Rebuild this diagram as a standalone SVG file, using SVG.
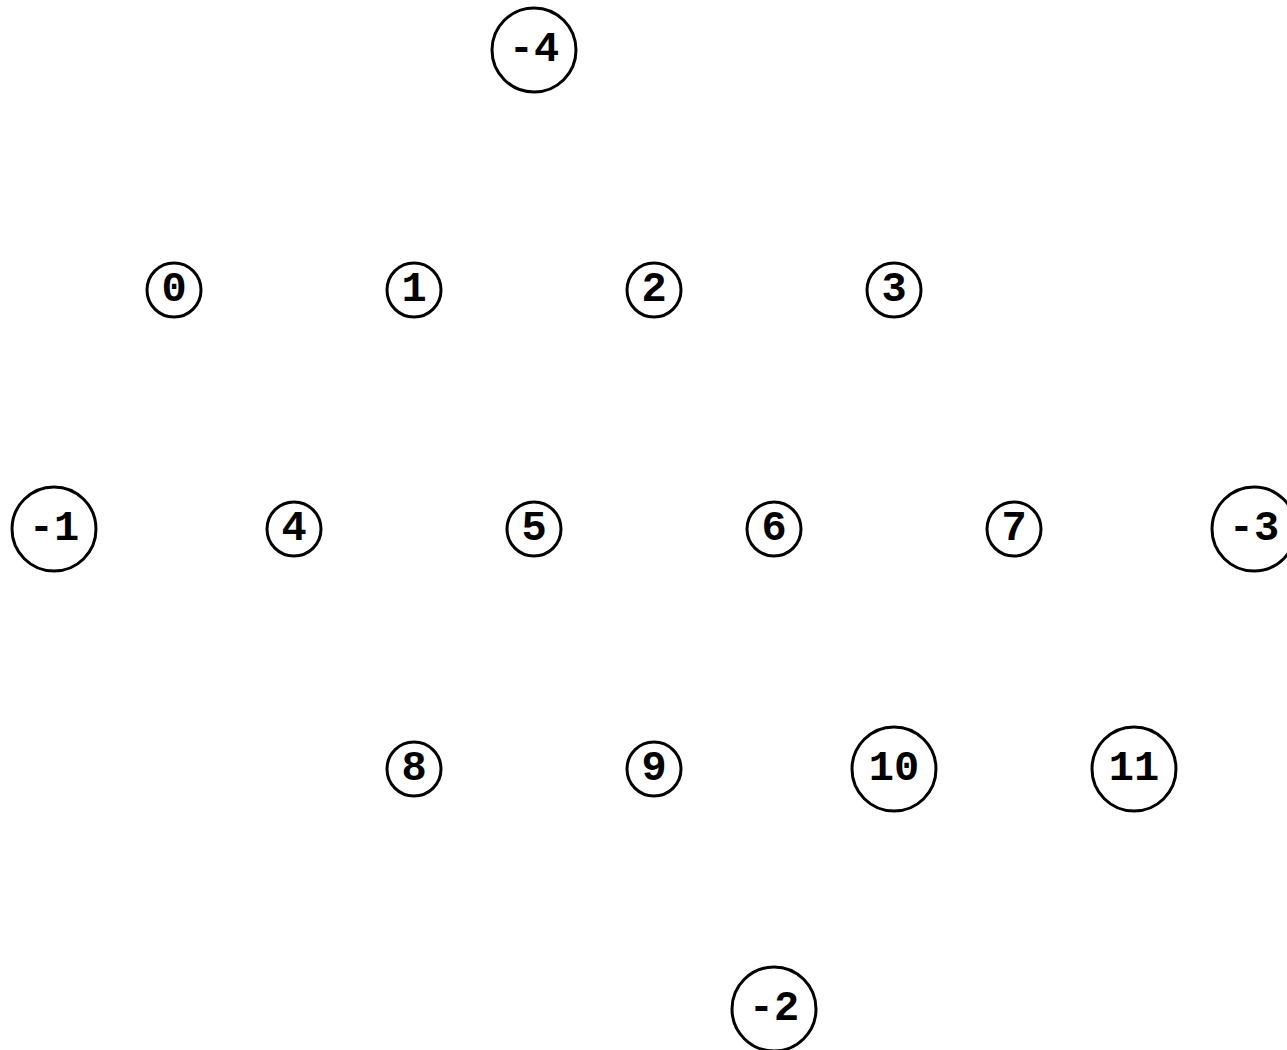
<svg xmlns="http://www.w3.org/2000/svg" width="1287" height="1050" viewBox="0 0 1287 1050">
<style>
.n circle{fill:none;stroke:#000;stroke-width:3}
.n text{font-family:"Liberation Mono","Courier New",monospace;font-weight:bold;font-size:42px;text-anchor:middle;dominant-baseline:central;fill:#000}
</style>
<rect width="1287" height="1050" fill="#fff"/>
<g id="connectors"></g>
<g id="n-4" class="n"><circle cx="534" cy="50" r="42"/><text x="534" y="50">-4</text></g>
<g id="n0" class="n"><circle cx="174" cy="290" r="27"/><text x="174" y="290">0</text></g>
<g id="n1" class="n"><circle cx="414" cy="290" r="27"/><text x="414" y="290">1</text></g>
<g id="n2" class="n"><circle cx="654" cy="290" r="27"/><text x="654" y="290">2</text></g>
<g id="n3" class="n"><circle cx="894" cy="290" r="27"/><text x="894" y="290">3</text></g>
<g id="n-1" class="n"><circle cx="54" cy="529" r="42"/><text x="54" y="529">-1</text></g>
<g id="n4" class="n"><circle cx="294" cy="529" r="27"/><text x="294" y="529">4</text></g>
<g id="n5" class="n"><circle cx="534" cy="529" r="27"/><text x="534" y="529">5</text></g>
<g id="n6" class="n"><circle cx="774" cy="529" r="27"/><text x="774" y="529">6</text></g>
<g id="n7" class="n"><circle cx="1014" cy="529" r="27"/><text x="1014" y="529">7</text></g>
<g id="n-3" class="n"><circle cx="1254" cy="529" r="42"/><text x="1254" y="529">-3</text></g>
<g id="n8" class="n"><circle cx="414" cy="769" r="27"/><text x="414" y="769">8</text></g>
<g id="n9" class="n"><circle cx="654" cy="769" r="27"/><text x="654" y="769">9</text></g>
<g id="n10" class="n"><circle cx="894" cy="769" r="42"/><text x="894" y="769">10</text></g>
<g id="n11" class="n"><circle cx="1134" cy="769" r="42"/><text x="1134" y="769">11</text></g>
<g id="n-2" class="n"><circle cx="774" cy="1009" r="42"/><text x="774" y="1009">-2</text></g>
</svg>
